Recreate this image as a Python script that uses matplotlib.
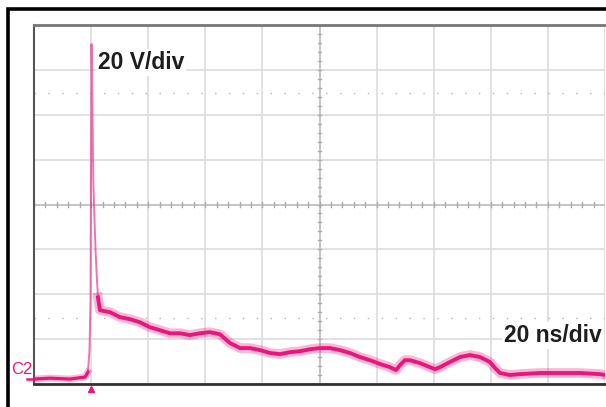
import numpy as np
import matplotlib.pyplot as plt
from matplotlib.patches import Rectangle
from matplotlib.transforms import blended_transform_factory

TRACE_COLOR = "#e8177d"
GRID_COLOR = "#dcdcdc"
TEXT_COLOR = "#1e1e1e"

# time (ns) relative to trigger, voltage (V) relative to C2 ground marker
time_ns = [-20, -14.4, -7.4, -2.1, -1.1, -0.56, -0.2, 0.14, 0.5, 0.77, 1.2, 1.6,
           2.07, 2.4, 3.1, 6.6, 10.1, 13.6, 17.1, 20.6, 24.1, 27.6, 31.1, 34.6,
           38.1, 41.6, 45.1, 48.7, 52.2, 55.7, 59.2, 62.7, 66.2, 69.7, 73.2, 76.7,
           80.2, 83.7, 87.2, 90.7, 94.2, 97.7, 101.2, 104.7, 106.8, 108.2, 109.9,
           111.7, 115.2, 118.7, 120.5, 122.2, 125.7, 129.2, 132.7, 136.2, 139.7,
           141.5, 143.2, 146.7, 150.2, 157.2, 164.2, 171.2, 178.2, 180]
volts = [0, 0.4, 0, 0.9, 3.1, 12.9, 35, 149.3, 119.6, 88.4, 70.7, 56,
         44, 36.4, 30.7, 29.8, 27.6, 26.7, 25.3, 23.1, 21.8, 20.4, 20.4, 19.6,
         20.4, 20.9, 20, 16, 13.8, 13.8, 12.9, 11.6, 11.1, 12, 12.4, 13.3,
         13.8, 13.8, 12.9, 11.6, 9.8, 8.4, 6.7, 5.3, 4, 6.2, 8.4,
         8.4, 7.1, 5.3, 4.4, 5.3, 7.6, 9.8, 10.7, 9.8, 7.6,
         4.9, 2.7, 1.8, 2.2, 2.7, 2.7, 2.7, 2.2, 1.8]

X_MIN, X_MAX = -20, 180   # 20 ns/div, 10 div
Y_MIN, Y_MAX = -2.2, 157.8  # 20 V/div, 8 div
CURSORS = [127.6, 27.1]

fig = plt.figure(figsize=(6.06, 4.07), dpi=100)
fig.patch.set_facecolor("white")

# outer black frame (runs off the right/bottom edges)
fig.patches.append(Rectangle((7.5 / 606, -0.05), 1.1, 1.05 - 8.5 / 407,
                             transform=fig.transFigure, fill=False,
                             edgecolor="black", linewidth=2.6))

ax = fig.add_axes([34 / 606, 23 / 407, 571 / 606, 359 / 407])
ax.set_xlim(X_MIN, X_MAX)
ax.set_ylim(Y_MIN, Y_MAX)

# graticule
for gx in np.arange(X_MIN, X_MAX + 1, 20):
    ax.axvline(gx, color=GRID_COLOR, linewidth=1.2, zorder=0)
for gy in np.arange(Y_MIN, Y_MAX + 1, 20):
    ax.axhline(gy, color=GRID_COLOR, linewidth=1.2, zorder=0)
xc = (X_MIN + X_MAX) / 2
yc = (Y_MIN + Y_MAX) / 2
ax.axvline(xc, color="#c4c4c4", linewidth=1.3, zorder=0)
ax.axhline(yc, color="#c4c4c4", linewidth=1.3, zorder=0)
for tx in np.arange(X_MIN, X_MAX + 0.1, 4):
    ax.plot([tx, tx], [yc - 1.0, yc + 1.0], color="#ababab", linewidth=1, zorder=0)
for ty in np.arange(Y_MIN, Y_MAX + 0.1, 4):
    ax.plot([xc - 0.7, xc + 0.7], [ty, ty], color="#ababab", linewidth=1, zorder=0)
for cy in CURSORS:
    ax.axhline(cy, color="#b5b5b5", linewidth=1, linestyle=(0, (1, 9)), zorder=0)

# trace: thin spike, noisy-looking thick tail
t = np.array(time_ns)
v = np.array(volts)
spike = (t > -1.5) & (t < 3.2)
ax.plot(t[spike], v[spike], color=TRACE_COLOR, linewidth=1.4, alpha=0.6, zorder=3)
tail = t >= 2.3
ax.plot(t[tail], v[tail], color=TRACE_COLOR, linewidth=7, alpha=0.3, zorder=3)
ax.plot(t[tail], v[tail], color=TRACE_COLOR, linewidth=2.8, zorder=3)
base = t <= -1.0
ax.plot(t[base], v[base], color=TRACE_COLOR, linewidth=5, alpha=0.3, zorder=3)
ax.plot(t[base], v[base], color=TRACE_COLOR, linewidth=2.3, zorder=3)

# ground marker and trigger marker
trans = blended_transform_factory(ax.transAxes, ax.transData)
ax.plot([-0.012, 0.0], [0, 0], color=TRACE_COLOR, linewidth=1.8,
        transform=trans, clip_on=False)
ax.text(-0.003, 0.8, "C2", color=TRACE_COLOR, fontsize=12, ha="right",
        va="bottom", transform=trans, family="Liberation Sans")
trans2 = blended_transform_factory(ax.transData, ax.transAxes)
ax.plot([0], [-0.015], marker="^", markersize=4.5, color=TRACE_COLOR,
        transform=trans2, clip_on=False)

ax.text(2.4, 141, "20 V/div", fontsize=16.5, fontweight="bold", color=TEXT_COLOR,
        family="Liberation Sans", ha="left", va="center", zorder=5,
        bbox=dict(facecolor="white", edgecolor="none", pad=1.5))
ax.text(178.8, 19.5, "20 ns/div", fontsize=16.5, fontweight="bold", color=TEXT_COLOR,
        family="Liberation Sans", ha="right", va="center", zorder=5,
        bbox=dict(facecolor="white", edgecolor="none", pad=1.5))

ax.set_xticks([])
ax.set_yticks([])
ax.spines["left"].set_color("#555555")
ax.spines["left"].set_linewidth(1.5)
ax.spines["bottom"].set_color("#333333")
ax.spines["bottom"].set_linewidth(2)
ax.spines["top"].set_color("#777777")
ax.spines["top"].set_linewidth(2)
ax.spines["right"].set_visible(False)

fig.savefig("out.png", dpi=100, facecolor=fig.get_facecolor())
